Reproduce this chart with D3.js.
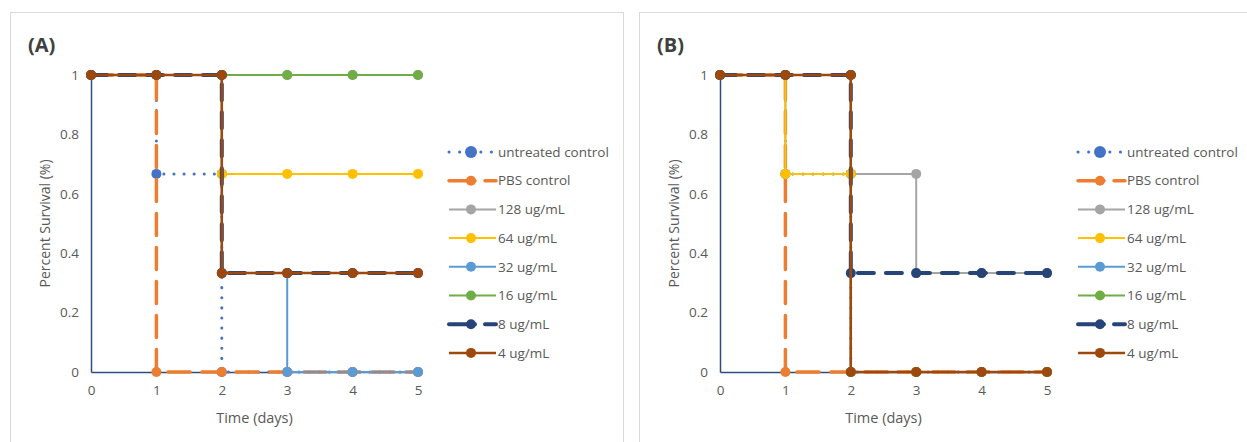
<!DOCTYPE html>
<html>
<head>
<meta charset="utf-8">
<script src="https://cdn.jsdelivr.net/npm/d3@7"></script>
<style>
  body { margin: 0; background: #fff; }
  text { font-family: "Open Sans", "Liberation Sans", sans-serif; }
</style>
</head>
<body>
<div id="vis"></div>
<script>
// legend names
var seriesNames = ["untreated control", "PBS control", "128 ug/mL", "64 ug/mL",
                   "32 ug/mL", "16 ug/mL", "8 ug/mL", "4 ug/mL"];

var xTicks = [0, 1, 2, 3, 4, 5];
var yTicks = [0, 0.2, 0.4, 0.6, 0.8, 1];

// panel A step points (day, survival) per series
var daysA = [
    [0, 1, 1, 2, 2, 3, 4, 5],
    [0, 1, 1, 2, 3, 4, 5],
    [0, 1, 2, 3, 4, 5],
    [0, 1, 2, 2, 3, 4, 5],
    [0, 1, 2, 2, 3, 3, 4, 5],
    [0, 1, 2, 3, 4, 5],
    [0, 1, 2, 2, 3, 4, 5],
    [0, 1, 2, 2, 3, 4, 5]
];
var survA = [
    [1, 1, 0.667, 0.667, 0, 0, 0, 0],
    [1, 1, 0, 0, 0, 0, 0],
    [1, 1, 1, 1, 1, 1],
    [1, 1, 1, 0.667, 0.667, 0.667, 0.667],
    [1, 1, 1, 0.333, 0.333, 0, 0, 0],
    [1, 1, 1, 1, 1, 1],
    [1, 1, 1, 0.333, 0.333, 0.333, 0.333],
    [1, 1, 1, 0.333, 0.333, 0.333, 0.333]
];

// panel B
var daysB = [
    [0, 1, 1, 2, 2, 3, 4, 5],
    [0, 1, 1, 2, 3, 4, 5],
    [0, 1, 1, 2, 3, 3, 4, 5],
    [0, 1, 1, 2, 2, 3, 4, 5],
    [0, 1, 2, 2, 3, 4, 5],
    [0, 1, 2, 2, 3, 4, 5],
    [0, 1, 2, 2, 3, 4, 5],
    [0, 1, 2, 2, 3, 4, 5]
];
var survB = [
    [1, 1, 0.667, 0.667, 0, 0, 0, 0],
    [1, 1, 0, 0, 0, 0, 0],
    [1, 1, 0.667, 0.667, 0.667, 0.333, 0.333, 0.333],
    [1, 1, 0.667, 0.667, 0, 0, 0, 0],
    [1, 1, 1, 0, 0, 0, 0],
    [1, 1, 1, 0, 0, 0, 0],
    [1, 1, 1, 0.333, 0.333, 0.333, 0.333],
    [1, 1, 1, 0, 0, 0, 0]
];

// line styles, same order as the names
var styles = [
    { color: "#4472C4", width: 3,   dash: "0.1 10",  cap: "round", r: 5 },
    { color: "#ED7D31", width: 3.5, dash: "22 12",   cap: "round", r: 5 },
    { color: "#A5A5A5", width: 2,   dash: null,      cap: "butt",  r: 5 },
    { color: "#FFC000", width: 2,   dash: null,      cap: "butt",  r: 5 },
    { color: "#5B9BD5", width: 2,   dash: null,      cap: "butt",  r: 5 },
    { color: "#70AD47", width: 2,   dash: null,      cap: "butt",  r: 5 },
    { color: "#264478", width: 4,   dash: "16 12",   cap: "round", r: 5 },
    { color: "#9E480E", width: 2.5, dash: null,      cap: "butt",  r: 5 }
];

var width = 1247;
var height = 442;

var svg = d3.select("#vis")
    .append("svg")
    .attr("width", width)
    .attr("height", height);

function drawPanel(left, frameW, label, days, surv) {
    var g = svg.append("g").attr("transform", "translate(" + left + ",0)");

    // frame
    g.append("rect")
        .attr("x", 0.5).attr("y", 12.5)
        .attr("width", frameW).attr("height", 440)
        .attr("fill", "#fff")
        .attr("stroke", "#d9d9d9");

    g.append("text")
        .attr("x", 18).attr("y", 52)
        .style("font-size", "20px")
        .style("font-weight", "bold")
        .style("fill", "#404040")
        .text(label);

    var x0 = 81, x1 = 408, yTop = 75, yBot = 372;
    var xscale = d3.scaleLinear().domain([0, 5]).range([x0, x1]);
    var yscale = d3.scaleLinear().domain([0, 1]).range([yBot, yTop]);

    var xaxis = d3.axisBottom(xscale).tickValues(xTicks).tickSize(0).tickPadding(13)
        .tickFormat(d3.format("d"));
    var yaxis = d3.axisLeft(yscale).tickValues(yTicks).tickSize(0).tickPadding(12)
        .tickFormat(function(d) { return d === 0 || d === 1 ? String(d) : d3.format(".1f")(d); });

    var gx = g.append("g").attr("transform", "translate(0," + yBot + ")").call(xaxis);
    var gy = g.append("g").attr("transform", "translate(" + x0 + ",0)").call(yaxis);
    [gx, gy].forEach(function(a) {
        a.select(".domain").attr("stroke", "#2F4E7E").attr("stroke-width", 1.5);
        a.selectAll("text").style("font-size", "13.5px").style("fill", "#595959").attr("font-family", null);
    });

    g.append("text")
        .attr("x", (x0 + x1) / 2).attr("y", 423)
        .attr("text-anchor", "middle")
        .style("font-size", "14.5px").style("fill", "#595959")
        .text("Time (days)");

    g.append("text")
        .attr("transform", "translate(40," + ((yTop + yBot) / 2) + ") rotate(-90)")
        .attr("text-anchor", "middle")
        .style("font-size", "14px").style("fill", "#595959")
        .text("Percent Survival (%)");

    var line = d3.line()
        .x(function(d) { return xscale(d[0]); })
        .y(function(d) { return yscale(d[1]); });

    seriesNames.forEach(function(name, i) {
        var pts = days[i].map(function(d, j) { return [d, surv[i][j]]; });
        var s = styles[i];
        var sg = g.append("g").attr("class", "series");
        sg.append("path")
            .datum(pts)
            .attr("d", line)
            .attr("fill", "none")
            .attr("stroke", s.color)
            .attr("stroke-width", s.width)
            .attr("stroke-linecap", s.cap)
            .attr("stroke-dasharray", s.dash);
        sg.selectAll("circle")
            .data(pts)
            .enter()
            .append("circle")
            .attr("cx", function(d) { return xscale(d[0]); })
            .attr("cy", function(d) { return yscale(d[1]); })
            .attr("r", s.r)
            .attr("fill", s.color);
    });

    // legend
    var lx = 438, ly = 152, step = 28.7;
    var leg = g.append("g");
    seriesNames.forEach(function(name, i) {
        var s = styles[i];
        var y = ly + i * step;
        var row = leg.append("g");
        row.append("line")
            .attr("x1", lx + 1).attr("x2", lx + 48)
            .attr("y1", y).attr("y2", y)
            .attr("stroke", s.color)
            .attr("stroke-width", s.width)
            .attr("stroke-linecap", s.cap)
            .attr("stroke-dasharray", i === 0 ? "0.1 10.5" : (s.dash ? "26 10 11 20" : null));
        row.append("circle")
            .attr("cx", lx + 23).attr("cy", y)
            .attr("r", i === 0 ? 6 : s.r)
            .attr("fill", s.color);
        row.append("text")
            .attr("x", lx + 50).attr("y", y)
            .attr("dy", "0.35em")
            .style("font-size", "13.5px").style("fill", "#595959")
            .text(name);
    });
}

drawPanel(10, 613, "(A)", daysA, survA);
drawPanel(639, 620, "(B)", daysB, survB);
</script>
</body>
</html>
